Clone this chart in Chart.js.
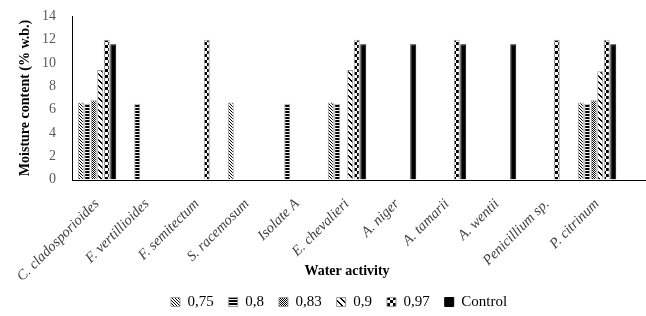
<!DOCTYPE html>
<html>
<head>
<meta charset="utf-8">
<script src="https://cdn.jsdelivr.net/npm/chart.js@4.4.1/dist/chart.umd.min.js"></script>
<style>
  html, body { margin: 0; padding: 0; background: #fff; }
  #wrap { width: 646px; height: 316px; }
</style>
</head>
<body>
<div id="wrap"><canvas id="chart"></canvas></div>
<script>
// categories (species) and water activity series
const species = [
    "C. cladosporioides",
    "F. vertillioides",
    "F. semitectum",
    "S. racemosum",
    "Isolate A",
    "E. chevalieri",
    "A. niger",
    "A. tamarii",
    "A. wentii",
    "Penicillium sp.",
    "P. citrinum",
];

const aw075 = [6.6, null, null, 6.6, null, 6.6, null, null, null, null, 6.6];
const aw080 = [6.5, 6.5, null, null, 6.5, 6.5, null, null, null, null, 6.5];
const aw083 = [6.8, null, null, null, null, null, null, null, null, null, 6.8];
const aw090 = [9.4, null, null, null, null, 9.4, null, null, null, null, 9.3];
const aw097 = [12.0, null, 12.0, null, null, 12.0, null, 12.0, null, 12.0, 12.0];
const control = [11.6, null, null, null, null, 11.6, 11.6, 11.6, 11.6, null, 11.6];

const yTicks = [0, 2, 4, 6, 8, 10, 12, 14];

// small tiles for the bar fill patterns
function makePattern(w, h, draw) {
    const c = document.createElement("canvas");
    c.width = w;
    c.height = h;
    const g = c.getContext("2d");
    g.fillStyle = "#fff";
    g.fillRect(0, 0, w, h);
    g.fillStyle = "#000";
    draw(g);
    return g.createPattern(c, "repeat");
}

const ctx = document.getElementById("chart").getContext("2d");

const pat075 = makePattern(3, 3, function (g) {
    for (let i = 0; i < 3; i++) g.fillRect(i, i, 1, 1);
});
const pat080 = makePattern(4, 3, function (g) {
    g.fillRect(0, 0, 4, 2);
});
const pat083 = makePattern(2, 2, function (g) {
    g.fillRect(0, 0, 1, 1);
    g.fillRect(1, 1, 1, 1);
});
const pat090 = makePattern(6, 6, function (g) {
    for (let i = 0; i < 6; i++) {
        g.fillRect(i, i, 2, 1);
        if (i === 5) g.fillRect(0, 5, 1, 1);
    }
});
const pat097 = makePattern(6, 6, function (g) {
    g.fillRect(0, 0, 3, 3);
    g.fillRect(3, 3, 3, 3);
});

const seriesLabels = ["0,75", "0,8", "0,83", "0,9", "0,97", "Control"];
const seriesData = [aw075, aw080, aw083, aw090, aw097, control];
const seriesFill = [pat075, pat080, pat083, pat090, pat097, "#000"];

const datasets = seriesLabels.map(function (lab, i) {
    return {
        label: lab,
        data: seriesData[i],
        backgroundColor: seriesFill[i],
        borderColor: i === 5 ? "#000" : "#9a9a9a",
        borderWidth: 1,
        categoryPercentage: 0.78,
        barPercentage: 0.92,
    };
});

// x axis line runs on to the right edge like the original
const longAxis = {
    id: "longAxis",
    afterDraw(chart) {
        const a = chart.chartArea;
        const c = chart.ctx;
        c.save();
        c.strokeStyle = "#000";
        c.lineWidth = 1;
        c.beginPath();
        c.moveTo(a.left, Math.round(a.bottom) + 0.5);
        c.lineTo(chart.width, Math.round(a.bottom) + 0.5);
        c.stroke();
        c.restore();
    }
};

// legend sits a bit right of the canvas centre in the original
const legendShift = {
    id: "legendShift",
    afterLayout(chart) {
        chart.legend.left += 28;
        chart.legend.right += 28;
    }
};

const whiteBg = {
    id: "whiteBg",
    beforeDraw(chart) {
        chart.ctx.save();
        chart.ctx.fillStyle = "#fff";
        chart.ctx.fillRect(0, 0, chart.width, chart.height);
        chart.ctx.restore();
    }
};

Chart.defaults.font.family = "'Liberation Serif', 'Times New Roman', serif";

new Chart(ctx, {
    type: "bar",
    data: { labels: species, datasets: datasets },
    options: {
        responsive: true,
        maintainAspectRatio: false,
        animation: false,
        layout: { padding: { top: 10, right: 24, left: 0, bottom: -3.5 } },
        plugins: {
            tooltip: { enabled: false },
            legend: {
                position: "bottom",
                labels: {
                    boxWidth: 9,
                    boxHeight: 9,
                    padding: 15,
                    color: "#000",
                    font: { size: 15 }
                }
            }
        },
        scales: {
            x: {
                grid: { display: false },
                border: { display: false },
                ticks: {
                    color: "#404040",
                    font: { size: 14.5, style: "italic" },
                    minRotation: 45,
                    maxRotation: 45,
                    padding: 8
                },
                title: {
                    display: true,
                    text: "Water activity",
                    color: "#000",
                    font: { size: 14, weight: "bold" },
                    padding: { top: 6, bottom: 0 }
                },
                afterFit(scale) { scale.height = 100; }
            },
            y: {
                min: 0,
                max: 14,
                afterBuildTicks(scale) {
                    scale.ticks = yTicks.map(function (v) { return { value: v }; });
                },
                grid: { display: false },
                border: { display: true, color: "#000" },
                ticks: {
                    color: "#595959",
                    font: { size: 14 },
                    padding: 8
                },
                title: {
                    display: true,
                    text: "Moisture content (% w.b.)",
                    color: "#000",
                    font: { size: 14, weight: "bold" },
                    padding: { top: 17, bottom: 0 }
                },
                afterFit(scale) { scale.width = 72; }
            }
        }
    },
    plugins: [whiteBg, longAxis, legendShift]
});
</script>
</body>
</html>
